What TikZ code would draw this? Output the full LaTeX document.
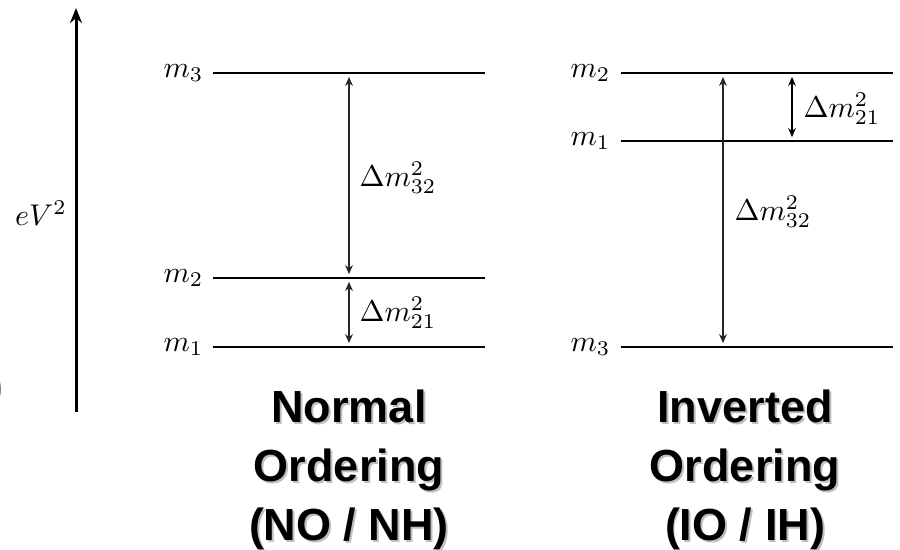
\documentclass[tikz,border=0pt]{standalone}
\usepackage{fontspec}
\newfontfamily\titlefont{Liberation Sans}
\usetikzlibrary{arrows.meta, positioning}
\tikzset{
  axis_style/.style={-{Stealth[length=5pt, width=4pt]}, line width=1pt, black},
  level_line/.style={line width=0.6pt, black},
  level_label/.style={anchor=east, inner sep=0pt},
  gap_arrow/.style={{Stealth[length=3pt, width=2.6pt]}-{Stealth[length=3pt, width=2.6pt]}, line width=0.45pt, black!85, shorten <=1.3pt, shorten >=1.3pt},
  gap_label/.style={anchor=west, inner sep=0pt},
  title_text/.style={align=center, anchor=north, inner sep=0pt, font=\titlefont\bfseries\fontsize{15}{19.7}\selectfont},
  title_shadow/.style={title_text, text=gray!50}
}

\begin{document}
\begin{tikzpicture}[x=0.3333pt, y=-0.3333pt]
  \useasboundingbox (0,0) rectangle (900,549);

  % --- 1. Energy axis ---
  \coordinate (axis_bot) at (76,412);
  \coordinate (axis_top) at (76,8);
  \draw[axis_style] (axis_bot) -- (axis_top);
  \node (ev) at (41,213) {$eV^2$};
  % cut-off bracket at the left edge
  \node[anchor=east, inner sep=0pt, font=\LARGE, text=black!80] (cut) at (6.2,390) {)};

  % --- 2. NORMAL ORDERING (Left) ---
  \coordinate (no3_l) at (213,73);  \coordinate (no3_r) at (485,73);
  \coordinate (no2_l) at (213,278); \coordinate (no2_r) at (485,278);
  \coordinate (no1_l) at (213,347); \coordinate (no1_r) at (485,347);
  \draw[level_line] (no3_l) -- (no3_r);
  \draw[level_line] (no2_l) -- (no2_r);
  \draw[level_line] (no1_l) -- (no1_r);
  \node[level_label] (no_m3) at (204,73)  {$m_3$};
  \node[level_label] (no_m2) at (204,278) {$m_2$};
  \node[level_label] (no_m1) at (204,347) {$m_1$};

  % gaps
  \coordinate (no_a3) at (349,73);
  \coordinate (no_a2) at (349,278);
  \coordinate (no_a1) at (349,347);
  \draw[gap_arrow] (no_a3) -- (no_a2);
  \draw[gap_arrow] (no_a2) -- (no_a1);
  \node[gap_label] (no_d32) at (359,178) {$\Delta m^2_{32}$};
  \node[gap_label] (no_d21) at (359,313) {$\Delta m^2_{21}$};

  % --- 3. INVERTED ORDERING (Right) ---
  \coordinate (io2_l) at (621,73);  \coordinate (io2_r) at (893,73);
  \coordinate (io1_l) at (621,141); \coordinate (io1_r) at (893,141);
  \coordinate (io3_l) at (621,347); \coordinate (io3_r) at (893,347);
  \draw[level_line] (io2_l) -- (io2_r);
  \draw[level_line] (io1_l) -- (io1_r);
  \draw[level_line] (io3_l) -- (io3_r);
  \node[level_label] (io_m2) at (611,73)  {$m_2$};
  \node[level_label] (io_m1) at (611,141) {$m_1$};
  \node[level_label] (io_m3) at (611,347) {$m_3$};

  % gaps
  \coordinate (io_b2) at (792,73);
  \coordinate (io_b1) at (792,141);
  \coordinate (io_a2) at (723,73);
  \coordinate (io_a3) at (723,347);
  \draw[gap_arrow, line width=0.8pt, black] (io_b2) -- (io_b1);
  \draw[gap_arrow] (io_a2) -- (io_a3);
  \node[gap_label] (io_d21) at (803,109) {$\Delta m^2_{21}$};
  \node[gap_label] (io_d32) at (734,212) {$\Delta m^2_{32}$};

  % --- 4. Titles (with drop shadow) ---
  \node[title_shadow] (no_shadow) at (351,391) {Normal\\Ordering\\(NO / NH)};
  \node[title_text] (no_title) at (349,389) {Normal\\Ordering\\(NO / NH)};
  \node[title_shadow] (io_shadow) at (747,391) {Inverted\\Ordering\\(IO / IH)};
  \node[title_text] (io_title) at (745,389) {Inverted\\Ordering\\(IO / IH)};
\end{tikzpicture}
\end{document}
